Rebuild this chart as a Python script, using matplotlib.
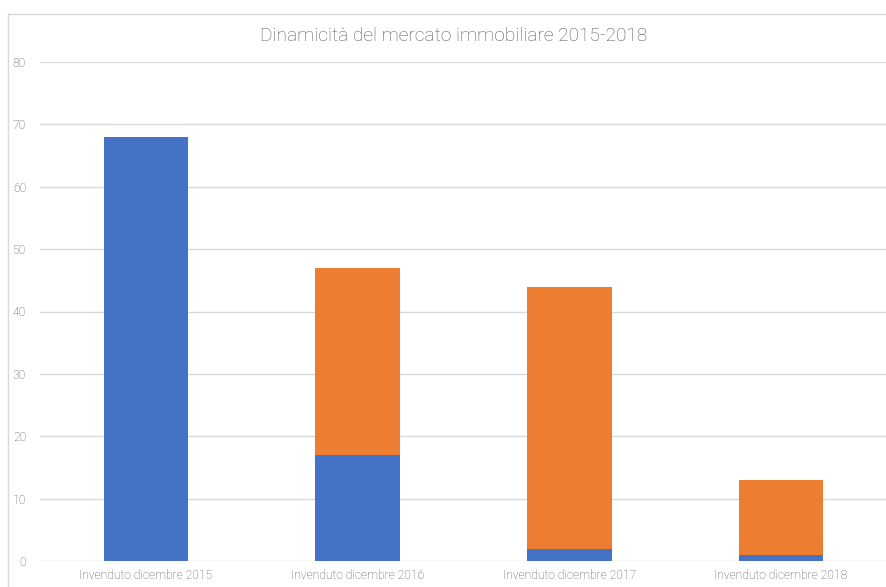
import matplotlib.pyplot as plt
from matplotlib.lines import Line2D

categories = ['Invenduto dicembre 2015', 'Invenduto dicembre 2016',
              'Invenduto dicembre 2017', 'Invenduto dicembre 2018']
blue_vals = [68, 17, 2, 1]
orange_vals = [0, 30, 42, 12]
yticks = [0, 10, 20, 30, 40, 50, 60, 70, 80]

plt.rcParams['font.family'] = ['Roboto', 'DejaVu Sans']

fig = plt.figure(figsize=(8.87, 5.87), dpi=100)
W, H = 887, 587
ax = fig.add_axes([40 / W, 26 / H, 1 - 40 / W, (561 - 62) / H])

x = range(len(categories))
ax.bar(x, blue_vals, width=0.4, color='#4472C4', zorder=3)
ax.bar(x, orange_vals, width=0.4, bottom=blue_vals, color='#ED7D31', zorder=3)

ax.set_xlim(-0.5, 3.5)
ax.set_ylim(0, 80)
ax.set_yticks(yticks)
ax.set_xticks(list(x))
ax.set_xticklabels(categories)
ax.grid(axis='y', color='#d9d9d9', linewidth=1, zorder=0)
for s in ax.spines.values():
    s.set_visible(False)
ax.tick_params(length=0, labelsize=8.7, labelcolor='#595959', pad=10)
ax.tick_params(axis='x', pad=6)
for lbl in ax.get_xticklabels() + ax.get_yticklabels():
    lbl.set_fontweight('light')

fig.text(454 / W, 1 - 36 / H, 'Dinamicità del mercato immobiliare 2015-2018',
         ha='center', va='center', fontsize=13.8, color='#595959', fontweight='light')

# chart border
bx, by = 8 / W, 1 - 14 / H
fig.add_artist(Line2D([bx, bx], [0, by], color='#d9d9d9', lw=1, transform=fig.transFigure))
fig.add_artist(Line2D([bx, 1], [by, by], color='#d9d9d9', lw=1, transform=fig.transFigure))

fig.savefig('out.png', dpi=100)
